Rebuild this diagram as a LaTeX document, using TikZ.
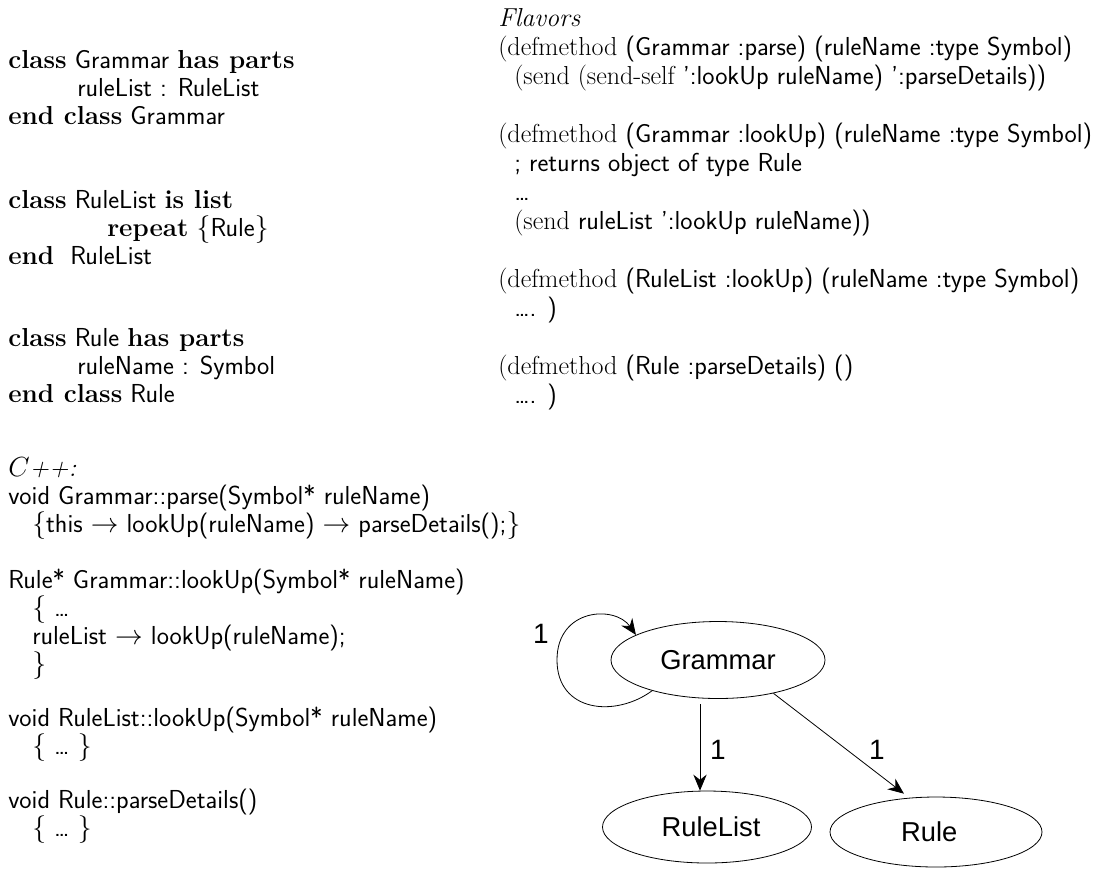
\documentclass[tikz,border=0pt]{standalone}
\usepackage{fontspec}
\newfontfamily\helv{Liberation Sans}
\usetikzlibrary{arrows.meta,shapes.geometric}
\newcommand{\kw}[1]{{\rmfamily\bfseries #1}}
\newcommand{\rmw}[1]{{\rmfamily #1}}
\begin{document}
\begin{tikzpicture}[x=0.75pt,y=-0.75pt,
  code/.style={anchor=base west,inner sep=0pt,font=\sffamily\fontsize{19.5}{22}\selectfont},
  cls/.style={draw,ellipse,line width=0.6pt,font=\helv\fontsize{20.5}{22}\selectfont,inner sep=0pt},
  assoc/.style={line width=0.6pt,-{Stealth[length=12pt,width=10pt]}},
  mult/.style={font=\helv\fontsize{21}{22}\selectfont,inner sep=0pt}]
\useasboundingbox (0,0) rectangle (1106,869);
% left column: class definitions
\node[code] (l1) at (8,68) {\kw{class} Grammar \kw{has parts}};
\node[code] (l2) at (77,96) {ruleList : RuleList};
\node[code] (l3) at (8,124) {\kw{end class} Grammar};
\node[code] (l4) at (8,208) {\kw{class} RuleList \kw{is list}};
\node[code] (l5) at (107,236) {\kw{repeat} $\{$Rule$\}$};
\node[code] (l6) at (8,264) {\kw{end}\ \ RuleList};
\node[code] (l7) at (8,346) {\kw{class} Rule \kw{has parts}};
\node[code] (l8) at (77,374) {ruleName : Symbol};
\node[code] (l9) at (8,402) {\kw{end class} Rule};
% C++
\node[code] (c0) at (8,476) {$C$\rmw{\itshape ++:}};
\node[code] (c1) at (8,504) {void Grammar::parse(Symbol* ruleName)};
\node[code] (c2) at (32,532) {$\{$this $\rightarrow$ lookUp(ruleName) $\rightarrow$ parseDetails();$\}$};
\node[code] (c3) at (8,588) {Rule* Grammar::lookUp(Symbol* ruleName)};
\node[code] (c4) at (32,616) {$\{$ \ldots};
\node[code] (c5) at (32,644) {ruleList $\rightarrow$ lookUp(ruleName);};
\node[code] (c6) at (32,672) {$\}$};
\node[code] (c7) at (8,726) {void RuleList::lookUp(Symbol* ruleName)};
\node[code] (c8) at (32,754) {$\{$ \ldots\ $\}$};
\node[code] (c9) at (8,808) {void Rule::parseDetails()};
\node[code] (c10) at (32,836) {$\{$ \ldots\ $\}$};
% right column: Flavors
\node[code] (f0) at (498,26) {\rmw{\itshape Flavors}};
\node[code] (f1) at (498,55) {\rmw{(defmethod} (Grammar :parse) (ruleName :type Symbol)};
\node[code] (f2) at (514,84) {\rmw{(send (send-self} ':lookUp ruleName) ':parseDetails))};
\node[code] (f3) at (498,142) {\rmw{(defmethod} (Grammar :lookUp) (ruleName :type Symbol)};
\node[code] (f4) at (514,171) {; returns object of type Rule};
\node[code] (f5) at (514,200) {\ldots};
\node[code] (f6) at (514,229) {\rmw{(send} ruleList ':lookUp ruleName))};
\node[code] (f7) at (498,287) {\rmw{(defmethod} (RuleList :lookUp) (ruleName :type Symbol)};
\node[code] (f8) at (514,316) {\ldots. )};
\node[code] (f9) at (498,374) {\rmw{(defmethod} (Rule :parseDetails) ()};
\node[code] (f10) at (514,403) {\ldots. )};
% diagram
\node[cls,minimum width=160.5pt,minimum height=57.75pt] (G) at (718,660) {Grammar};
\node[cls,minimum width=156.75pt,minimum height=54pt] (RL) at (707,827) {\hspace*{6pt}RuleList};
\node[cls,minimum width=159pt,minimum height=52.5pt] (R) at (936,832) {Rule\hspace*{10pt}};
\coordinate (ax) at (700,0);
\draw[assoc,shorten <=4pt] (G.south -| ax) -- (RL.north -| ax);
\draw[assoc,shorten >=5pt] (G.-31) -- (R.128);
\draw[assoc] (G.205) .. controls (615,718) and (557,712) .. (557,660)
  .. controls (557,608) and (615,605) .. (G.163);
\node[mult] (m1) at (541,634) {1};
\node[mult] (m2) at (718,750) {1};
\node[mult] (m3) at (877,750) {1};
\end{tikzpicture}
\end{document}
